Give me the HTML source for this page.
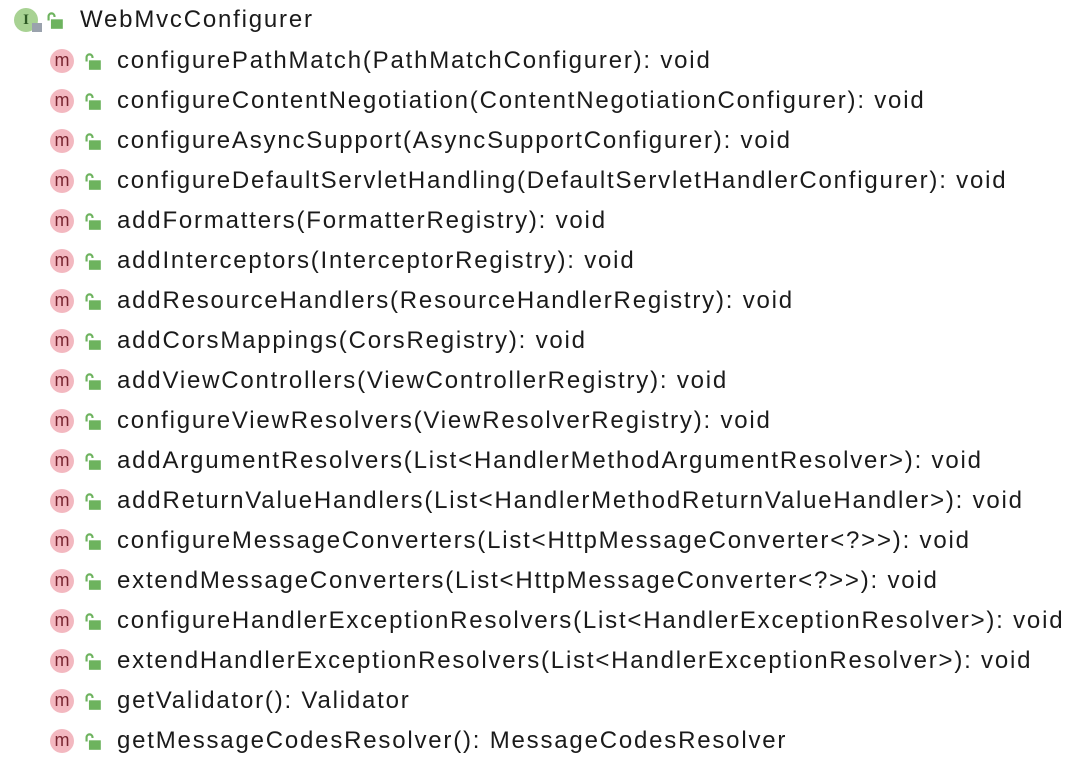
<!DOCTYPE html>
<html><head><style>
body{margin:0;width:1080px;height:766px;background:#fff;font-family:"Liberation Sans",sans-serif;position:relative;overflow:hidden}
.r{position:absolute;left:0;height:40px;width:1080px}
.c{position:absolute;width:24px;height:24px;border-radius:50%;background:#f3b8c0;color:#7a2530;font-size:18px;line-height:22px;text-align:center;left:50px;top:-12px}
.l{position:absolute;left:83px;top:-9px;width:19px;height:19px}
.t{position:absolute;left:117px;top:-14px;font-size:24px;letter-spacing:1.8px;color:#1a1a1a;white-space:nowrap;line-height:28px}
</style></head><body>
<svg width="0" height="0" style="position:absolute"><defs><symbol id="lk" viewBox="0 0 16 16"><path d="M3 8 V4.5 a2.5 2.5 0 0 1 5 0 V5" fill="none" stroke="#6db35e" stroke-width="1.8"/><rect x="5" y="7" width="10" height="8" fill="#6db35e"/></symbol></defs></svg>
<div class="r" style="top:20px">
<div style="position:absolute;left:14px;top:-12px;width:24px;height:24px;border-radius:50%;background:#a8d293;color:#2e5a25;font-size:15px;font-family:'Liberation Serif',serif;font-weight:bold;line-height:24px;text-align:center">I</div>
<div style="position:absolute;left:32px;top:3px;width:10px;height:9px;background:#9aa2ad"></div>
<svg class="l" style="left:45px"><use href="#lk"/></svg>
<div class="t" style="left:80px">WebMvcConfigurer</div></div>
<div id="rows"></div>
<script>
var m=["configurePathMatch(PathMatchConfigurer): void","configureContentNegotiation(ContentNegotiationConfigurer): void","configureAsyncSupport(AsyncSupportConfigurer): void","configureDefaultServletHandling(DefaultServletHandlerConfigurer): void","addFormatters(FormatterRegistry): void","addInterceptors(InterceptorRegistry): void","addResourceHandlers(ResourceHandlerRegistry): void","addCorsMappings(CorsRegistry): void","addViewControllers(ViewControllerRegistry): void","configureViewResolvers(ViewResolverRegistry): void","addArgumentResolvers(List<HandlerMethodArgumentResolver>): void","addReturnValueHandlers(List<HandlerMethodReturnValueHandler>): void","configureMessageConverters(List<HttpMessageConverter<?>>): void","extendMessageConverters(List<HttpMessageConverter<?>>): void","configureHandlerExceptionResolvers(List<HandlerExceptionResolver>): void","extendHandlerExceptionResolvers(List<HandlerExceptionResolver>): void","getValidator(): Validator","getMessageCodesResolver(): MessageCodesResolver"];
var h="";m.forEach(function(s,i){var e=s.replace(/&/g,"&amp;").replace(/</g,"&lt;").replace(/>/g,"&gt;");h+='<div class="r" style="top:'+(61+i*40)+'px"><div class="c">m</div><svg class="l"><use href="#lk"/></svg><div class="t">'+e+'</div></div>';});
document.getElementById("rows").outerHTML=h;
</script>
</body></html>
